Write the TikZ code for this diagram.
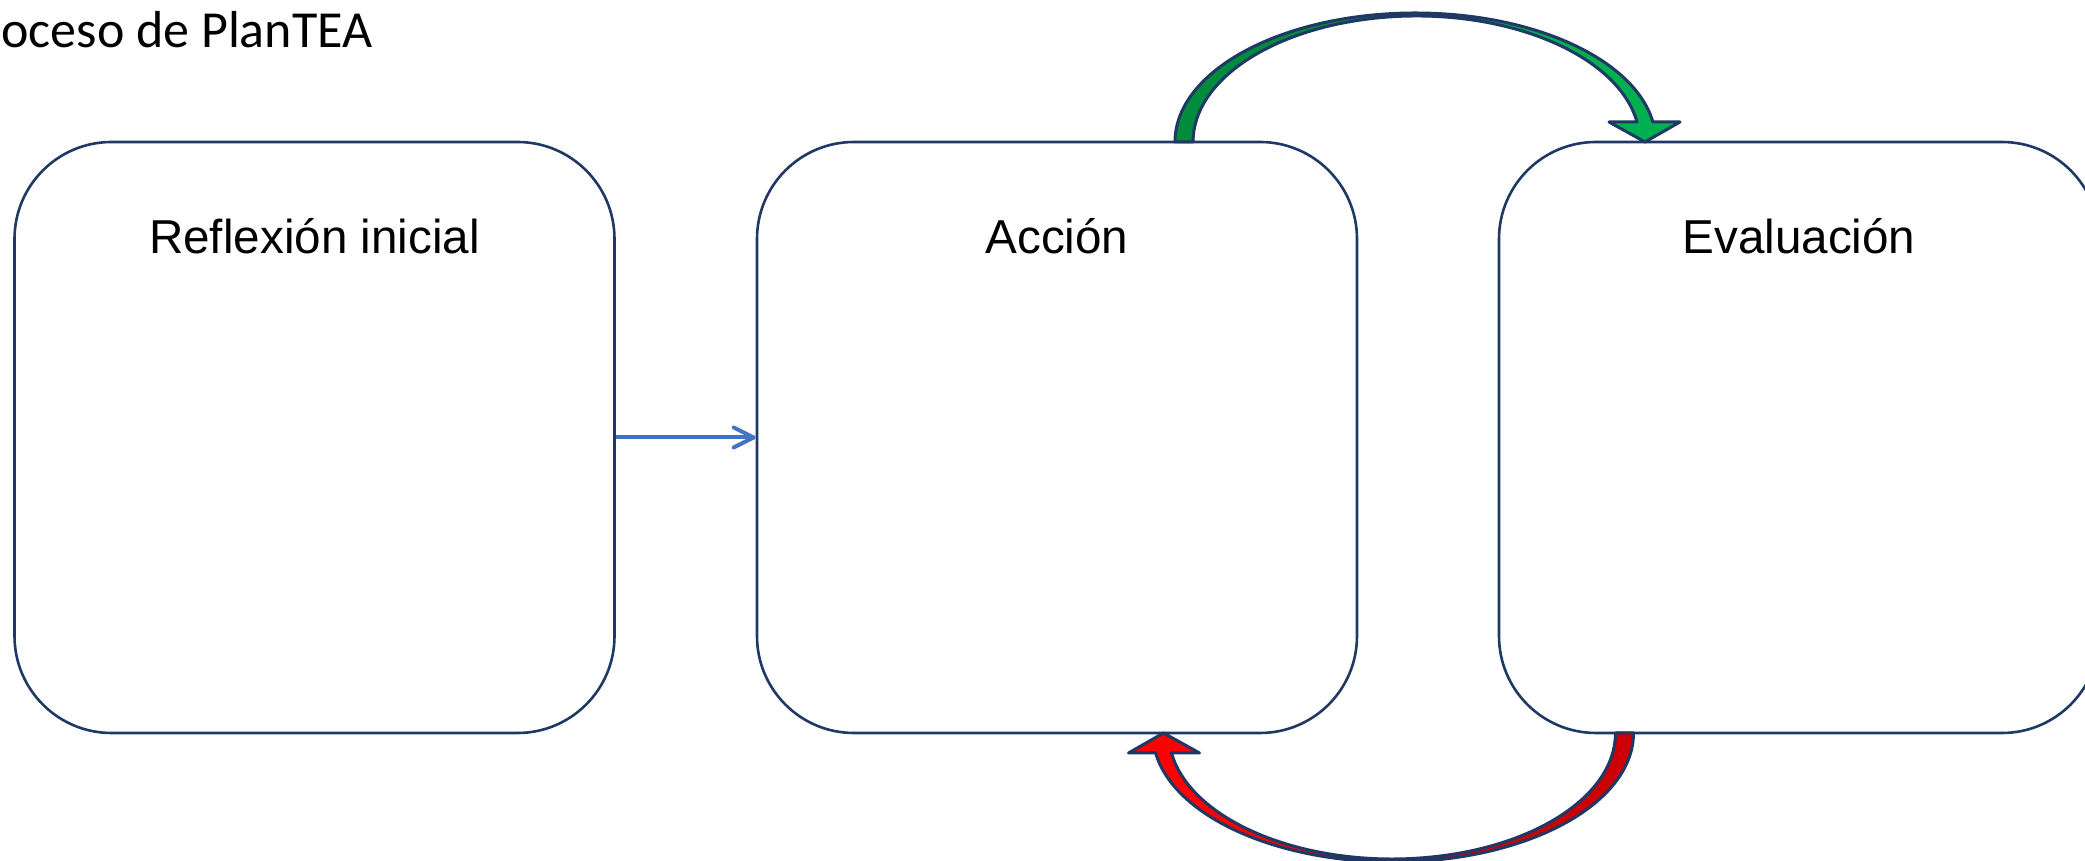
\documentclass[tikz,border=0pt]{standalone}
\usepackage{fontspec}
\setmainfont{Liberation Sans}
\newfontfamily\titlefont{Carlito}
\usetikzlibrary{arrows.meta}
\definecolor{navy}{RGB}{31,56,100}
\definecolor{linkblue}{RGB}{68,114,196}
\definecolor{greenfront}{RGB}{0,176,80}
\definecolor{greenback}{RGB}{0,140,60}
\definecolor{redfront}{RGB}{255,0,0}
\definecolor{redback}{RGB}{204,0,0}
\begin{document}
\begin{tikzpicture}[x=0.5pt,y=0.5pt,
  stagebox/.style={draw=navy, line width=1.3pt, rounded corners=48.5pt, minimum width=300pt, minimum height=295.5pt, inner sep=0pt, fill=white},
  stagetext/.style={anchor=base, inner sep=0pt, font=\fontsize{23.8}{28}\selectfont},
  bandline/.style={draw=navy, line width=1.5pt, line join=round},
  link/.style={draw=linkblue, line width=2pt, -{Straight Barb[length=10pt,width=10pt,round]}}]
\useasboundingbox (0,0) rectangle (2085,861);
\begin{scope}
\clip (0,0) rectangle (2085,861);
% title
\node[anchor=base west, inner sep=0pt, font=\titlefont\fontsize{26}{31}\selectfont] (title) at (1,813) {oceso de PlanTEA};
% boxes
\node[stagebox] (b1) at (314.5,423.5) {};
\node[stagebox] (b2) at (1057,423.5) {};
\node[stagebox] (b3) at (1799,423.5) {};
\node[stagetext] (t1) at (314.5,607) {Reflexión inicial};
\node[stagetext] (t2) at (1057,607) {Acción};
\node[stagetext] (t3) at (1799,607) {Evaluación};
% straight connector
\draw[link] (b1.east) -- (b2.west);
% green curved arrow (Acción -> Evaluación)
\coordinate (gtail) at (1175,719);
\coordinate (gtop) at (1415.4,848);
\coordinate (gtip) at (1645,719);
\fill[greenback] (gtail) arc[start angle=180,end angle=90,x radius=120.2pt,y radius=64.5pt]
  -- (1416.4,845) arc[start angle=90,end angle=180,x radius=111.7pt,y radius=63pt] -- cycle;
\fill[greenfront] (gtop) arc[start angle=90,end angle=8.92,x radius=120.2pt,y radius=64.5pt]
  -- (1680,739) -- (gtip) -- (1609,739) -- (1637,739)
  arc[start angle=9.13,end angle=90,x radius=111.7pt,y radius=63pt] -- cycle;
\draw[bandline] (gtail) arc[start angle=180,end angle=8.92,x radius=120.2pt,y radius=64.5pt]
  -- (1680,739) -- (gtip) -- (1609,739) -- (1637,739)
  arc[start angle=9.13,end angle=180,x radius=111.7pt,y radius=63pt] -- cycle;
% red curved arrow (Evaluación -> Acción)
\coordinate (rtail) at (1633.5,128);
\coordinate (rbot) at (1393.1,-1);
\coordinate (rtip) at (1163.5,128);
\fill[redback] (rtail) arc[start angle=0,end angle=-90,x radius=120.2pt,y radius=64.5pt]
  -- (1392.1,2) arc[start angle=-90,end angle=0,x radius=111.7pt,y radius=63pt] -- cycle;
\fill[redfront] (rbot) arc[start angle=270,end angle=188.92,x radius=120.2pt,y radius=64.5pt]
  -- (1128.5,108) -- (rtip) -- (1199.5,108) -- (1171.5,108)
  arc[start angle=189.13,end angle=270,x radius=111.7pt,y radius=63pt] -- cycle;
\draw[bandline] (rtail) arc[start angle=0,end angle=-171.08,x radius=120.2pt,y radius=64.5pt]
  -- (1128.5,108) -- (rtip) -- (1199.5,108) -- (1171.5,108)
  arc[start angle=-170.87,end angle=0,x radius=111.7pt,y radius=63pt] -- cycle;
\end{scope}
\end{tikzpicture}
\end{document}
